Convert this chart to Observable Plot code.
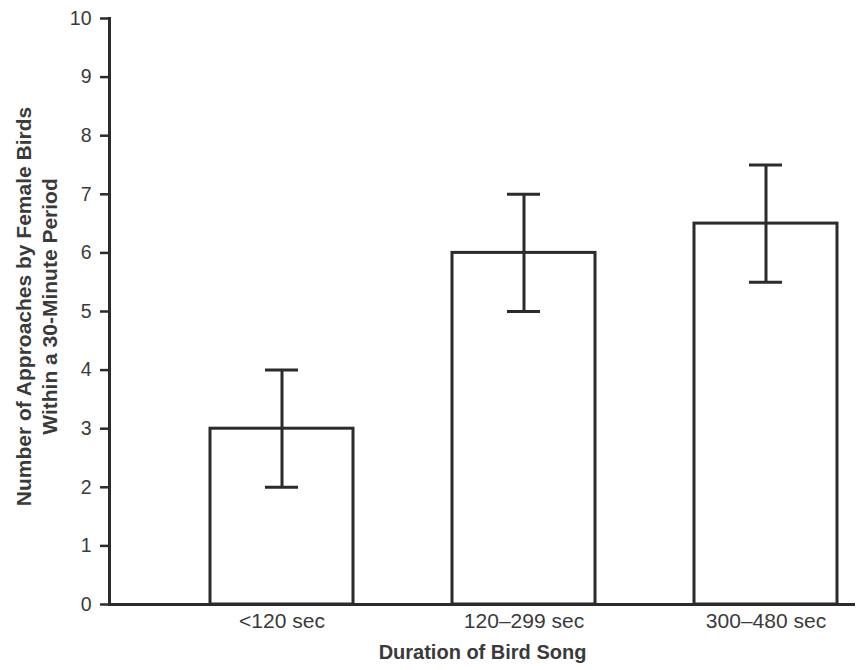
<!DOCTYPE html>
<html>
<head>
<meta charset="utf-8">
<script src="https://cdn.jsdelivr.net/npm/d3@7"></script>
<script src="https://cdn.jsdelivr.net/npm/@observablehq/plot@0.6"></script>
<style>
  html, body { margin: 0; padding: 0; background: #fff; }
  #chart svg { display: block; }
</style>
</head>
<body>
<div id="chart"></div>
<script>
const categories = ["<120 sec", "120\u2013299 sec", "300\u2013480 sec"];
const means = [3, 6, 6.5];
const lower = [2, 5, 5.5];
const upper = [4, 7, 7.5];
const yTicks = [0, 1, 2, 3, 4, 5, 6, 7, 8, 9, 10];
const yTitle = "Number of Approaches by Female Birds\nWithin a 30-Minute Period";
const xTitle = "Duration of Bird Song";

const data = categories.map((c, i) => ({cat: c, mean: means[i], lo: lower[i], hi: upper[i]}));
const ink = "#2b2b2b";
const textInk = "#3a3a3a";

const chart = Plot.plot({
  width: 859,
  height: 670,
  marginLeft: 109,
  marginRight: 4,
  marginTop: 18,
  marginBottom: 66,
  style: {fontFamily: "'Liberation Sans', Arial, sans-serif", fontSize: "19px", color: textInk, background: "#fff"},
  x: {domain: categories, range: [209, 837], paddingInner: 0.41, paddingOuter: 0, label: null},
  y: {domain: [0, 10], label: null},
  marks: [
    Plot.barY(data, {x: "cat", y: "mean", fill: "white", stroke: ink, strokeWidth: 3}),
    Plot.ruleX(data, {x: "cat", y1: "lo", y2: "hi", stroke: ink, strokeWidth: 3}),
    Plot.tickY(data, {x: "cat", y: "lo", stroke: ink, strokeWidth: 3, insetLeft: 55, insetRight: 55}),
    Plot.tickY(data, {x: "cat", y: "hi", stroke: ink, strokeWidth: 3, insetLeft: 55, insetRight: 55}),
    Plot.ruleY([0], {stroke: ink, strokeWidth: 3}),
    Plot.frame({anchor: "left", stroke: ink, strokeWidth: 3}),
    Plot.axisY({ticks: yTicks, tickSize: 9, tickPadding: 9, tickFormat: d => String(d), stroke: ink, strokeWidth: 2.5, fontSize: 19.5, label: null}),
    Plot.axisX({tickSize: 0, tickPadding: 9, fontSize: 21, label: null}),
    Plot.text([yTitle], {text: d => d, frameAnchor: "left", textAnchor: "middle", lineAnchor: "middle", dx: -73.5, dy: -5, rotate: -90, lineHeight: 1.2, fontWeight: "bold", fontSize: 21, fill: textInk}),
    Plot.text([xTitle], {text: d => d, frameAnchor: "bottom", dy: 54, fontWeight: "bold", fontSize: 20, fill: textInk})
  ]
});
document.getElementById("chart").appendChild(chart);
</script>
</body>
</html>
